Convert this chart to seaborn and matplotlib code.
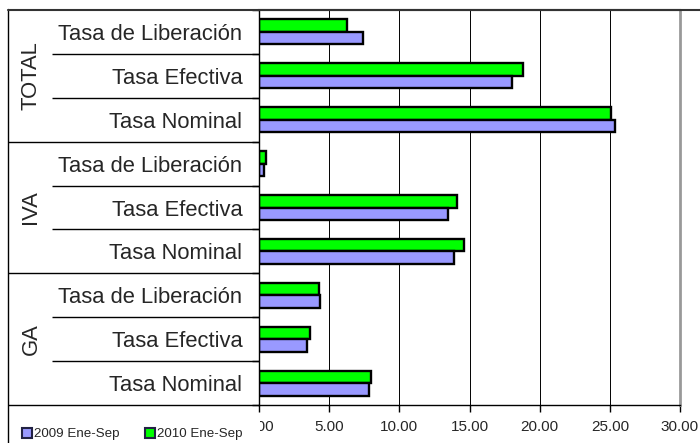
import numpy as np
import pandas as pd
import matplotlib
matplotlib.use("Agg")
import matplotlib.pyplot as plt
from matplotlib.patches import Patch, Rectangle
from matplotlib.lines import Line2D
from matplotlib.transforms import blended_transform_factory
import seaborn as sns

groups = ["TOTAL", "IVA", "GA"]
measures = ["Tasa de Liberación", "Tasa Efectiva", "Tasa Nominal"]
series = ["2009 Ene-Sep", "2010 Ene-Sep"]
v2009 = [7.38, 18.05, 25.37, 0.34, 13.50, 13.90, 4.38, 3.43, 7.84]
v2010 = [6.26, 18.83, 25.08, 0.48, 14.10, 14.60, 4.24, 3.66, 7.96]
xticks = [0, 5, 10, 15, 20, 25, 30]
colors = {"2009 Ene-Sep": "#9999FF", "2010 Ene-Sep": "#00FF00"}

keys = [f"{g}|{m}" for g in groups for m in measures]
labels = [m for g in groups for m in measures]
df = pd.DataFrame({
    "key": keys * 2,
    "series": [series[0]] * len(keys) + [series[1]] * len(keys),
    "value": v2009 + v2010,
})

sns.set_style("white")
plt.rcParams["font.family"] = ["Liberation Sans", "DejaVu Sans"]

W, H = 700, 443
fig = plt.figure(figsize=(7.0, 4.43), dpi=100)
ax = fig.add_axes([259 / W, 1 - 405 / H, (680 - 259) / W, (405 - 10) / H])

sns.barplot(data=df, y="key", x="value", hue="series",
            hue_order=[series[1], series[0]], order=keys,
            palette=colors, orient="h", width=0.57, edgecolor="black",
            linewidth=1.7, saturation=1, legend=False, ax=ax)

ax.set_xlim(0, 30)
ax.set_ylim(8.5, -0.5)
ax.set_xticks(xticks)
ax.set_xticklabels([f"{t:.2f}" for t in xticks], fontsize=11)
ax.set_xlabel("")
ax.set_ylabel("")
ax.set_yticks(range(len(keys)))
ax.set_yticklabels(labels, fontsize=15.8)
ax.set_yticks(np.arange(-0.5, len(keys), 1), minor=True)
ax.tick_params(axis="y", which="major", length=0, pad=12)
ax.tick_params(axis="y", which="minor", length=5, width=1, color="black", direction="out", left=True)
ax.tick_params(axis="x", length=5, width=1, color="black", direction="out", bottom=True, pad=6)
ax.grid(axis="x", color="black", linewidth=0.7)
ax.grid(axis="y", visible=False)
ax.set_axisbelow(True)

for s in ["left", "bottom"]:
    ax.spines[s].set_color("black")
    ax.spines[s].set_linewidth(1.0)
ax.spines["top"].set_color("#333333")
ax.spines["top"].set_linewidth(1.5)
ax.spines["right"].set_color("#999999")
ax.spines["right"].set_linewidth(2.0)

# Group labels and table lines on the left
tr = blended_transform_factory(fig.transFigure, ax.transData)
for i, g in enumerate(groups):
    ax.text(31 / W, 3 * i + 1, g, transform=tr, rotation=90, fontsize=15.8,
            ha="center", va="center", clip_on=False)
    for b in [3 * i + 0.5, 3 * i + 1.5]:
        ax.plot([52 / W, 259 / W], [b, b], transform=tr, color="black",
                lw=1.0, clip_on=False, solid_capstyle="butt")
    b = 3 * i + 2.5
    ax.plot([8 / W, 259 / W], [b, b], transform=tr, color="black",
            lw=1.0, clip_on=False, solid_capstyle="butt")

# White legend area covering part of the first tick label
fig.add_artist(Rectangle((9 / W, 0), (260 - 9) / W, (H - 413) / H,
                         transform=fig.transFigure, facecolor="white",
                         edgecolor="none", zorder=5))
# Outer chart border
fig.add_artist(Line2D([8 / W, 8 / W], [0, 1 - 9 / H], color="black", lw=1.0, zorder=6))
fig.add_artist(Line2D([8 / W, 1], [1 - 9.5 / H, 1 - 9.5 / H], color="#333333", lw=1.5, zorder=6))

handles = [Patch(facecolor=colors[s], edgecolor="#222244", linewidth=1.5, label=s) for s in series]
fig.legend(handles=handles, loc="center left", bbox_to_anchor=(22 / W, 1 - 434 / H),
           ncol=2, frameon=False, fontsize=9.6, handlelength=0.75, handleheight=0.75,
           handletextpad=0.15, columnspacing=1.9, borderaxespad=0, borderpad=0)

fig.savefig("out.png", dpi=100)
